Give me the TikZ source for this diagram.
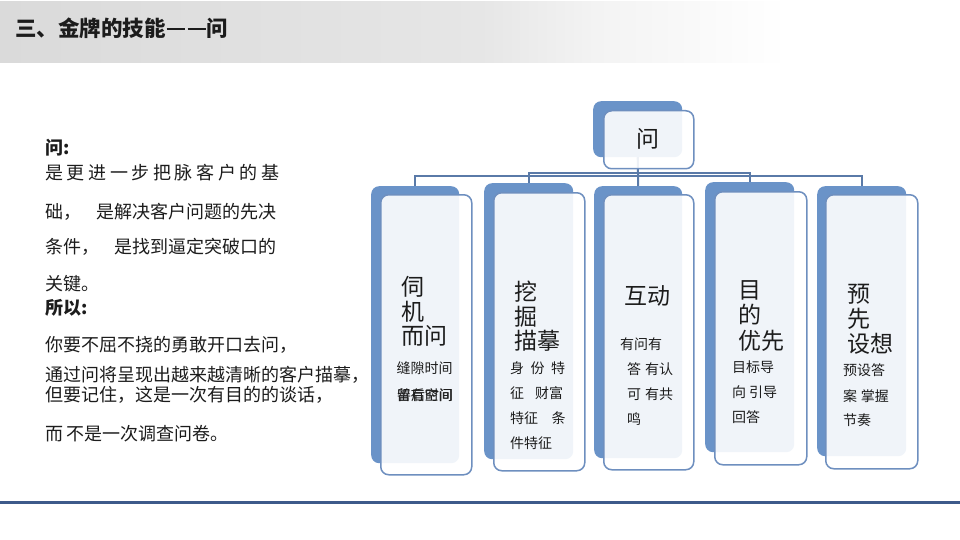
\documentclass[tikz,border=0pt]{standalone}
\usepackage{fontspec}
\setmainfont{Noto Sans CJK SC}
\usetikzlibrary{calc}
\definecolor{boxblue}{HTML}{6A93C8}
\definecolor{edgeblue}{HTML}{6E8FBF}
\definecolor{linkblue}{HTML}{5A7AA8}
\definecolor{rulecol}{HTML}{3D5A8A}
\definecolor{txt}{HTML}{1C1C1C}
\definecolor{hgA}{HTML}{DADADA}
\definecolor{hgB}{HTML}{E6E6E6}
\definecolor{hgC}{HTML}{F3F3F3}
\pgfdeclarehorizontalshading{hdr}{100bp}{color(0bp)=(hgA); color(25bp)=(hgA); color(50bp)=(hgB); color(56bp)=(hgC); color(66bp)=(white); color(100bp)=(white)}
\begin{document}
\begin{tikzpicture}[x=1pt,y=-1pt,
  backbox/.style={fill=boxblue, draw=none, rounded corners=8pt, inner sep=0pt, anchor=north west},
  frontbox/.style={fill=white, fill opacity=0.9, draw=edgeblue, draw opacity=1, line width=1.5pt, rounded corners=8pt, inner sep=0pt, anchor=north west},
  link/.style={draw=linkblue, line width=2pt},
  bodytxt/.style={font=\fontsize{18}{20}\selectfont, text=txt, anchor=base west, inner sep=0pt},
  bigtxt/.style={font=\fontsize{23}{25}\selectfont, text=txt, anchor=base west, inner sep=0pt},
  smalltxt/.style={font=\fontsize{14}{16}\selectfont, text=txt, anchor=base west, inner sep=0pt}]
\useasboundingbox (0,0) rectangle (960,540);
\fill[white] (0,0) rectangle (960,540);
% header
\fill[shading=hdr] (0,2) rectangle (960,63);
\node[font=\fontsize{21.5}{24}\bfseries\selectfont, text=txt, anchor=base west, inner sep=0pt] (title) at (15,36.7) {三、金牌的技能\hspace{1pt}\rule[7pt]{18pt}{2pt}\hspace{3pt}\rule[7pt]{18pt}{2pt}\hspace{1pt}问};
% bottom rule
\draw[rulecol, line width=3pt] (0,502.3) -- (960,502.3);
% left text
\node[bodytxt, font=\fontsize{18}{20}\bfseries\selectfont] (l0) at (45,154.6) {问:};
\node[bodytxt] (l1) at (45,179.8) {是\hspace{3.6pt}更\hspace{3.6pt}进\hspace{3.6pt}一\hspace{3.6pt}步\hspace{3.6pt}把\hspace{3.6pt}脉\hspace{3.6pt}客\hspace{3.6pt}户\hspace{3.6pt}的\hspace{3.6pt}基};
\node[bodytxt] (l2) at (45,218.6) {础，\hspace{15pt}是解决客户问题的先决};
\node[bodytxt] (l3) at (45,253.8) {条件，\hspace{15pt}是找到逼定突破口的};
\node[bodytxt] (l4) at (45,290.5) {关键。};
\node[bodytxt, font=\fontsize{18}{20}\bfseries\selectfont] (l5) at (45,314.8) {所以:};
\node[bodytxt] (l6) at (45,351.8) {你要不屈不挠的勇敢开口去问，};
\node[bodytxt] (l7) at (45,381.0) {通过问将呈现出越来越清晰的客户描摹，};
\node[bodytxt] (l8) at (45,401.8) {但要记住，这是一次有目的的谈话，};
\node[bodytxt] (l9) at (45,440.5) {而\hspace{3pt}不是一次调查问卷。};
% back boxes
\node[backbox, minimum width=89pt, minimum height=56pt] (bt) at (593,101) {};
\node[backbox, minimum width=88pt, minimum height=277pt] (b1) at (371,186) {};
\node[backbox, minimum width=89pt, minimum height=276pt] (b2) at (484,183) {};
\node[backbox, minimum width=88pt, minimum height=272pt] (b3) at (594,186) {};
\node[backbox, minimum width=89pt, minimum height=270pt] (b4) at (705,182) {};
\node[backbox, minimum width=89pt, minimum height=270pt] (b5) at (817,186) {};
% connectors
\draw[link] (bt.south) -- (bt.south |- 0,176) -| (b1.north);
\draw[link] (bt.south) -- (bt.south |- 0,173) -| (b2.north);
\draw[link] (bt.south) -- (b3.north);
\draw[link] (bt.south) -- (bt.south |- 0,173) -| (b4.north);
\draw[link] (bt.south) -- (bt.south |- 0,176) -| (b5.north);
% front boxes
\node[frontbox, minimum width=90pt, minimum height=58pt] (ft) at (603,110) {};
\node[frontbox, minimum width=91pt, minimum height=280pt] (f1) at (380,194) {};
\node[frontbox, minimum width=91pt, minimum height=278pt] (f2) at (493,192) {};
\node[frontbox, minimum width=90pt, minimum height=275pt] (f3) at (603,194) {};
\node[frontbox, minimum width=92pt, minimum height=273pt] (f4) at (714,191) {};
\node[frontbox, minimum width=92pt, minimum height=274pt] (f5) at (825,194) {};
% top text
\node[bigtxt, anchor=base] (tq) at (647.5,147.7) {问};
% child 1
\node[bigtxt] (c1a) at (401,295.4) {伺};
\node[bigtxt] (c1b) at (401,320.4) {机};
\node[bigtxt] (c1c) at (401,344.4) {而问};
\node[smalltxt] (c1d) at (396.5,373.3) {缝隙时间};
\node[smalltxt] (c1e) at (396.5,400.0) {留有空间};
\node[smalltxt] (c1f) at (396.8,400.2) {善后时间};
% child 2
\node[bigtxt] (c2a) at (514,300.4) {挖};
\node[bigtxt] (c2b) at (514,325.4) {掘};
\node[bigtxt] (c2c) at (514,349.4) {描摹};
\node[smalltxt] (c2d) at (510,373.6) {身\hspace{6.5pt}份\hspace{6.5pt}特};
\node[smalltxt] (c2e) at (510,398.0) {征\hspace{11pt}财富};
\node[smalltxt] (c2f) at (510,423.3) {特征\hspace{13.5pt}条};
\node[smalltxt] (c2g) at (510,448.0) {件特征};
% child 3
\node[bigtxt] (c3a) at (624,304.0) {互动};
\node[smalltxt] (c3b) at (620,349.0) {有问有};
\node[smalltxt] (c3c) at (627,374.3) {答\hspace{4pt}有认};
\node[smalltxt] (c3d) at (627,399.3) {可\hspace{4pt}有共};
\node[smalltxt] (c3e) at (627,424.3) {鸣};
% child 4
\node[bigtxt] (c4a) at (738,298.7) {目};
\node[bigtxt] (c4b) at (738,323.7) {的};
\node[bigtxt] (c4c) at (738,349.7) {优先};
\node[smalltxt] (c4d) at (732,372.8) {目标导};
\node[smalltxt] (c4e) at (732,397.0) {向\hspace{3pt}引导};
\node[smalltxt] (c4f) at (732,422.0) {回答};
% child 5
\node[bigtxt] (c5a) at (847.5,302.0) {预};
\node[bigtxt] (c5b) at (847.5,327.0) {先};
\node[bigtxt] (c5c) at (847.5,352.0) {设想};
\node[smalltxt] (c5d) at (843,375.3) {预设答};
\node[smalltxt] (c5e) at (843,401.0) {案\hspace{3.7pt}掌握};
\node[smalltxt] (c5f) at (843,425.3) {节奏};
\end{tikzpicture}
\end{document}
